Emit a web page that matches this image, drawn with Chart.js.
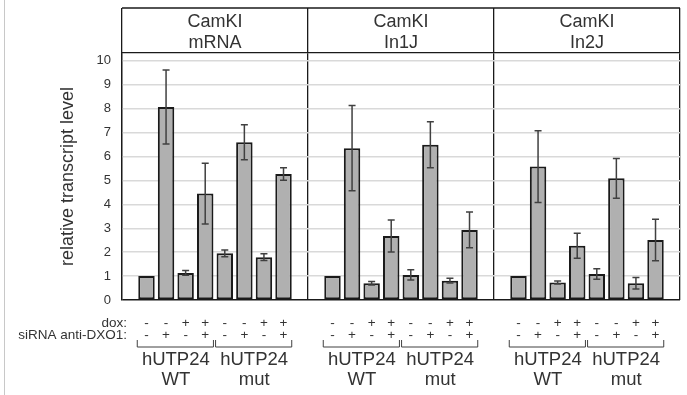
<!DOCTYPE html>
<html>
<head>
<meta charset="UTF-8">
<title>CamKI relative transcript level</title>
<script src="https://cdn.jsdelivr.net/npm/chart.js@4.4.0/dist/chart.umd.min.js"></script>
<style>
  body { margin: 0; background: #fff; }
  #wrap { position: relative; width: 687px; height: 395px; }
  #edge { position: absolute; left: 4px; top: 0; width: 1px; height: 395px; background: #c8c8c8; }
</style>
</head>
<body>
<div id="wrap">
  <canvas id="myChart"></canvas>
  <div id="edge"></div>
</div>
<script>
// panel headers (one panel per transcript)
const panels = [['CamKI', 'mRNA'], ['CamKI', 'In1J'], ['CamKI', 'In2J']];

// bar heights and error bars, 8 conditions per panel
const mRNA     = [1.00, 8.07, 1.13, 4.45, 1.95, 6.60, 1.79, 5.27];
const mRNAErr  = [0,    1.55, 0.10, 1.27, 0.14, 0.73, 0.14, 0.26];
const in1J     = [1.00, 6.35, 0.70, 2.68, 1.05, 6.49, 0.81, 2.93];
const in1JErr  = [0,    1.78, 0.07, 0.67, 0.21, 0.96, 0.10, 0.75];
const in2J     = [1.00, 5.58, 0.73, 2.27, 1.09, 5.09, 0.70, 2.51];
const in2JErr  = [0,    1.50, 0.06, 0.52, 0.22, 0.83, 0.24, 0.87];

// condition rows under the bars
const dox   = ['-', '-', '+', '+', '-', '-', '+', '+'];
const sirna = ['-', '+', '-', '+', '-', '+', '-', '+'];
const groups = [['hUTP24', 'WT'], ['hUTP24', 'mut']];

const yMin = 0, yMax = 10, yStep = 1;

const FONT = '"Liberation Sans", Arial, sans-serif';
Chart.defaults.font.family = FONT;
Chart.defaults.color = '#333';

const values = [mRNA, in1J, in2J];
const errs = [mRNAErr, in1JErr, in2JErr];
const datasets = dox.map((d, i) => ({
  label: 'dox ' + d + ' / siRNA ' + sirna[i],
  data: values.map(v => v[i]),
  errors: errs.map(e => e[i]),
  backgroundColor: '#b0b0b0',
  borderColor: '#1a1a1a',
  borderWidth: 2,
  borderSkipped: false,
  categoryPercentage: 0.842,
  barPercentage: 0.84
}));

const frame = {
  id: 'frame',
  afterDraw(chart) {
    const ctx = chart.ctx, x = chart.scales.x;
    ctx.save();
    ctx.strokeStyle = '#1a1a1a';
    ctx.lineWidth = 1.3;
    ctx.beginPath();
    ctx.moveTo(x.left, x.top);
    ctx.lineTo(x.right, x.top);
    ctx.stroke();
    ctx.restore();
  }
};

const errorBars = {
  id: 'errorBars',
  afterDatasetsDraw(chart) {
    const ctx = chart.ctx, y = chart.scales.y;
    ctx.save();
    ctx.strokeStyle = '#404040';
    ctx.lineWidth = 1.5;
    chart.data.datasets.forEach((ds, i) => {
      chart.getDatasetMeta(i).data.forEach((bar, j) => {
        const e = ds.errors[j];
        if (!e) return;
        const top = y.getPixelForValue(ds.data[j] + e);
        const bot = y.getPixelForValue(ds.data[j] - e);
        ctx.beginPath();
        ctx.moveTo(bar.x, top); ctx.lineTo(bar.x, bot);
        ctx.moveTo(bar.x - 3.5, top); ctx.lineTo(bar.x + 3.5, top);
        ctx.moveTo(bar.x - 3.5, bot); ctx.lineTo(bar.x + 3.5, bot);
        ctx.stroke();
      });
    });
    ctx.restore();
  }
};

const conditionLabels = {
  id: 'conditionLabels',
  afterDraw(chart) {
    const ctx = chart.ctx, area = chart.chartArea;
    const metas = chart.data.datasets.map((d, i) => chart.getDatasetMeta(i));
    const small = '13.5px ' + FONT, big = '18.5px ' + FONT;
    ctx.save();
    ctx.fillStyle = '#333';
    ctx.strokeStyle = '#404040';
    ctx.lineWidth = 1;
    ctx.textBaseline = 'middle';
    ctx.font = small;
    ctx.textAlign = 'right';
    ctx.fillText('dox:', area.left + 5, 323);
    ctx.fillText('siRNA anti-DXO1:', area.left + 5, 335);
    ctx.textAlign = 'center';
    panels.forEach((p, j) => {
      metas.forEach((m, i) => {
        ctx.fillText(dox[i], m.data[j].x, 323);
        ctx.fillText(sirna[i], m.data[j].x, 335);
      });
      groups.forEach((g, k) => {
        const a = metas[4 * k].data[j], b = metas[4 * k + 3].data[j];
        const l = a.x - a.width / 2 - 1, r = b.x + b.width / 2;
        ctx.beginPath();
        ctx.moveTo(l, 340); ctx.lineTo(l, 347); ctx.lineTo(r, 347); ctx.lineTo(r, 340);
        ctx.stroke();
        ctx.font = big;
        ctx.fillText(g[0], (a.x + b.x) / 2, 359.5);
        ctx.fillText(g[1], (a.x + b.x) / 2, 380);
        ctx.font = small;
      });
    });
    ctx.restore();
  }
};

new Chart(document.getElementById('myChart'), {
  type: 'bar',
  data: { labels: panels, datasets: datasets },
  options: {
    responsive: true,
    maintainAspectRatio: false,
    animation: false,
    layout: { padding: { top: 8, right: 7, bottom: 95, left: 0 } },
    plugins: { legend: { display: false }, tooltip: { enabled: false } },
    scales: {
      x: {
        position: 'top',
        offset: true,
        grid: { offset: true, color: '#1a1a1a', lineWidth: 1.3, tickLength: 45 },
        border: { display: true, color: '#1a1a1a', width: 1.3 },
        ticks: { padding: -46, color: '#333', font: { size: 18, lineHeight: 1.17 } },
        afterFit: s => { s.height = 45; }
      },
      y: {
        min: yMin,
        max: yMax + 0.33,
        grid: {
          drawTicks: false,
          lineWidth: 1.5,
          color: c => c.tick.value === 0 ? '#1a1a1a' : '#d9d9d9'
        },
        border: { display: true, color: '#1a1a1a', width: 1.3 },
        ticks: { stepSize: yStep, includeBounds: false, padding: 11, color: '#333', font: { size: 13 } },
        title: { display: true, text: 'relative transcript level', color: '#333', font: { size: 18 }, padding: { top: 57 } },
        afterFit: s => { s.width = 122; }
      }
    }
  },
  plugins: [frame, errorBars, conditionLabels]
});
</script>
</body>
</html>
